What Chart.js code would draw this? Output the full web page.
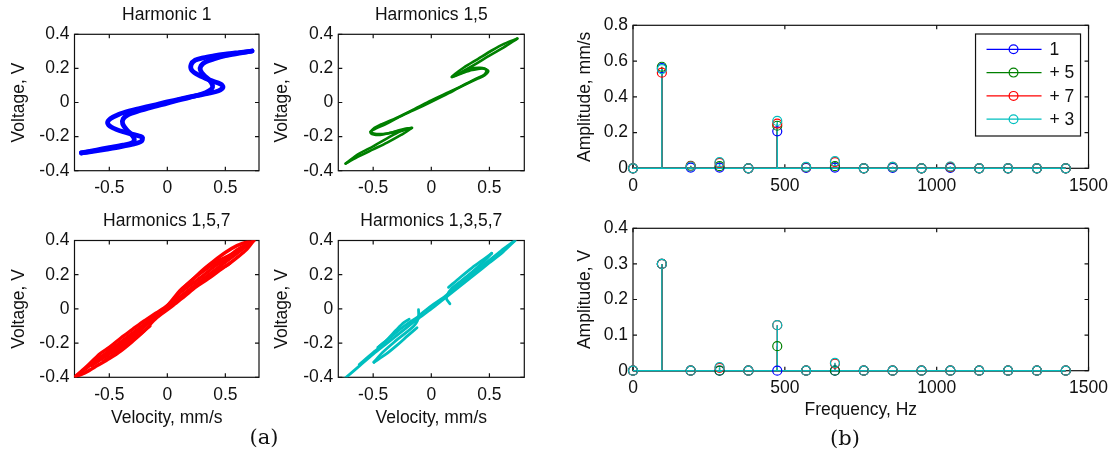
<!DOCTYPE html>
<html>
<head>
<meta charset="utf-8">
<script src="https://cdn.jsdelivr.net/npm/chart.js@4.4.1/dist/chart.umd.min.js"></script>
<style>
  body { margin: 0; background: #fff; }
  #wrap { position: relative; width: 1115px; height: 459px; overflow: hidden; }
  canvas { position: absolute; }
  .lab { position: absolute; font-family: "DejaVu Serif", serif; font-size: 21px; color: #111; transform: translate(-50%, -50%); }
</style>
</head>
<body>
<div id="wrap">
  <canvas id="h1"></canvas>
  <canvas id="h15"></canvas>
  <canvas id="h157"></canvas>
  <canvas id="h1357"></canvas>
  <canvas id="velSpec"></canvas>
  <canvas id="voltSpec"></canvas>
  <div class="lab" style="left:264px;top:437px">(a)</div>
  <div class="lab" style="left:845px;top:438px">(b)</div>
</div>
<script>
// ---- (a) velocity / voltage loops ----
const velTicks = [-0.5, 0, 0.5];
const voltTicks = [-0.4, -0.2, 0, 0.2, 0.4];

const harm1Down = [[0.73,0.302],[0.62,0.293],[0.50,0.283],[0.40,0.273],[0.31,0.262],[0.24,0.248],[0.205,0.222],[0.21,0.19],[0.27,0.16],[0.37,0.13],[0.46,0.108],[0.48,0.09],[0.44,0.068],[0.35,0.053],[0.25,0.04],[0.12,0.022],[0,0.004],[-0.12,-0.016],[-0.24,-0.035],[-0.33,-0.05],[-0.42,-0.07],[-0.49,-0.095],[-0.515,-0.12],[-0.48,-0.145],[-0.38,-0.172],[-0.28,-0.19],[-0.215,-0.205],[-0.225,-0.228],[-0.30,-0.245],[-0.40,-0.259],[-0.52,-0.273],[-0.63,-0.285],[-0.74,-0.296]];
const harm1Up = [[-0.74,-0.296],[-0.62,-0.28],[-0.50,-0.265],[-0.38,-0.25],[-0.30,-0.235],[-0.285,-0.215],[-0.305,-0.19],[-0.35,-0.16],[-0.385,-0.125],[-0.38,-0.095],[-0.34,-0.072],[-0.25,-0.05],[-0.12,-0.025],[0,-0.004],[0.12,0.018],[0.24,0.038],[0.33,0.058],[0.38,0.078],[0.39,0.10],[0.365,0.13],[0.315,0.16],[0.285,0.19],[0.29,0.215],[0.33,0.238],[0.40,0.255],[0.50,0.274],[0.62,0.289],[0.73,0.302]];

const harm15Down = [[0.74,0.375],[0.62,0.322],[0.50,0.275],[0.38,0.225],[0.27,0.183],[0.177,0.15],[0.25,0.172],[0.33,0.196],[0.42,0.203],[0.475,0.19],[0.455,0.163],[0.39,0.142],[0.30,0.11],[0.15,0.055],[0,0.004],[-0.15,-0.045],[-0.29,-0.09],[-0.40,-0.13],[-0.47,-0.15],[-0.525,-0.172],[-0.47,-0.185],[-0.38,-0.182],[-0.27,-0.165],[-0.166,-0.149],[-0.26,-0.19],[-0.38,-0.235],[-0.50,-0.275],[-0.62,-0.315],[-0.737,-0.358]];
const harm15Up = [[-0.737,-0.358],[-0.62,-0.30],[-0.50,-0.257],[-0.38,-0.21],[-0.27,-0.17],[-0.166,-0.149],[-0.25,-0.158],[-0.34,-0.176],[-0.44,-0.19],[-0.52,-0.18],[-0.50,-0.155],[-0.42,-0.125],[-0.30,-0.09],[-0.15,-0.04],[0,0.012],[0.15,0.06],[0.29,0.105],[0.40,0.14],[0.46,0.16],[0.49,0.185],[0.44,0.2],[0.35,0.19],[0.26,0.17],[0.177,0.15],[0.28,0.205],[0.40,0.255],[0.52,0.305],[0.63,0.345],[0.74,0.375]];

const harm157Top = [[-0.8,-0.40],[-0.7,-0.34],[-0.58,-0.262],[-0.5,-0.225],[-0.4,-0.17],[-0.3,-0.12],[-0.2,-0.07],[-0.1,-0.025],[0,0.02],[0.11,0.108],[0.2,0.16],[0.3,0.225],[0.4,0.28],[0.5,0.33],[0.6,0.37],[0.7,0.395],[0.745,0.40]];
const harm157Bottom = [[0.745,0.40],[0.68,0.345],[0.6,0.30],[0.54,0.268],[0.45,0.225],[0.35,0.175],[0.25,0.13],[0.15,0.075],[0.05,0.02],[-0.05,-0.03],[-0.12,-0.07],[-0.2,-0.13],[-0.3,-0.19],[-0.4,-0.245],[-0.5,-0.29],[-0.6,-0.33],[-0.7,-0.37],[-0.8,-0.40]];
const harm157Center = [[-0.8,-0.40],[-0.6,-0.296],[-0.4,-0.193],[-0.2,-0.09],[0,0.014],[0.2,0.118],[0.4,0.222],[0.6,0.325],[0.745,0.40]];
const harm157MidA = [[0.72,0.385],[0.6,0.335],[0.45,0.285],[0.35,0.24],[0.25,0.19],[0.15,0.13],[0.05,0.05],[-0.05,-0.01],[-0.15,-0.07],[-0.25,-0.135],[-0.35,-0.19],[-0.45,-0.24],[-0.55,-0.285],[-0.65,-0.33]];
const harm157MidB = [[-0.6,-0.29],[-0.5,-0.25],[-0.4,-0.205],[-0.3,-0.15],[-0.2,-0.1],[-0.08,-0.03],[0,0.0],[0.1,0.06],[0.2,0.11],[0.3,0.16],[0.4,0.21],[0.5,0.25],[0.54,0.268]];
const harm157Upper = [[0.1,0.09],[0.2,0.14],[0.3,0.19],[0.4,0.245],[0.5,0.29],[0.6,0.345],[0.7,0.385]];
const harm157Lower = [[-0.15,-0.1],[-0.25,-0.155],[-0.35,-0.207],[-0.45,-0.258],[-0.55,-0.305]];

const harm1357Main = [[-0.75,-0.41],[-0.62,-0.335],[-0.5,-0.265],[-0.38,-0.2],[-0.25,-0.13],[-0.12,-0.06],[0,0.0],[0.12,0.065],[0.25,0.135],[0.38,0.205],[0.5,0.27],[0.62,0.335],[0.72,0.40]];
const harm1357SliverTop = [[0.148,0.126],[0.25,0.185],[0.35,0.24],[0.45,0.29],[0.52,0.325]];
const harm1357SliverBot = [[0.52,0.325],[0.45,0.275],[0.35,0.215],[0.25,0.16],[0.17,0.115],[0.14,0.085],[0.13,0.06],[0.16,0.03]];
const harm1357Upper = [[0.72,0.40],[0.6,0.34],[0.5,0.285],[0.4,0.228],[0.3,0.172],[0.2,0.118],[0.1,0.064],[0,0.018],[-0.1,-0.035]];
const harm1357LowBot = [[-0.123,-0.11],[-0.2,-0.155],[-0.294,-0.212],[-0.39,-0.265],[-0.494,-0.312]];
const harm1357LowTop = [[-0.494,-0.312],[-0.42,-0.255],[-0.32,-0.195],[-0.22,-0.14],[-0.15,-0.1],[-0.12,-0.07],[-0.109,-0.04],[-0.11,-0.005]];
const harm1357LowFill = [[-0.45,-0.22],[-0.35,-0.165],[-0.25,-0.11],[-0.18,-0.075],[-0.1,-0.04]];
const harm1357LowEdge = [[-0.46,-0.225],[-0.38,-0.18],[-0.3,-0.122],[-0.237,-0.08],[-0.19,-0.06]];
const harm1357Tail = [[-0.62,-0.325],[-0.5,-0.255],[-0.4,-0.2]];

// ---- (b) amplitude spectra ----
const freqHz = [0, 95, 190, 285, 380, 475, 570, 665, 760, 855, 950, 1045, 1140, 1235, 1330, 1425];
const freqTicks = [0, 500, 1000, 1500];
const seriesNames = ['1', '+ 5', '+ 7', '+ 3'];
const seriesColors = ['#0000ff', '#008000', '#ff0000', '#00bfbf'];

const velAmp1 = [0, 0.56, 0.004, 0.004, 0, 0.207, 0.002, 0.004, 0, 0.002, 0, 0.002, 0, 0, 0, 0];
const velAmp15 = [0, 0.568, 0.014, 0.012, 0, 0.238, 0.006, 0.012, 0, 0.006, 0, 0.006, 0, 0, 0, 0];
const velAmp157 = [0, 0.535, 0.012, 0.03, 0, 0.25, 0.006, 0.035, 0, 0.008, 0, 0.008, 0, 0, 0, 0];
const velAmp1357 = [0, 0.555, 0.01, 0.034, 0, 0.265, 0.008, 0.04, 0, 0.008, 0, 0.01, 0, 0, 0, 0];
const velTicksY = [0, 0.2, 0.4, 0.6, 0.8];

const voltAmp1 = [0, 0.3, 0, 0, 0, 0, 0, 0, 0, 0, 0, 0, 0, 0, 0, 0];
const voltAmp15 = [0, 0.3, 0, 0, 0, 0.069, 0, 0, 0, 0, 0, 0, 0, 0, 0, 0];
const voltAmp157 = [0, 0.3, 0, 0.008, 0, 0.128, 0, 0.02, 0, 0, 0, 0, 0, 0, 0, 0];
const voltAmp1357 = [0, 0.3, 0, 0.01, 0, 0.128, 0, 0.022, 0, 0, 0, 0, 0, 0, 0, 0];
const voltTicksY = [0, 0.1, 0.2, 0.3, 0.4];

const FONT = 17.5;
const LH = FONT * 1.2;
const FAMILY = '"Liberation Sans", Arial, sans-serif';
Chart.defaults.font.family = FAMILY;
Chart.defaults.font.size = FONT;
Chart.defaults.color = '#111';

function place(id, left, top, w, h) {
  const c = document.getElementById(id);
  c.width = w; c.height = h;
  c.style.left = left + 'px'; c.style.top = top + 'px';
  c.style.width = w + 'px'; c.style.height = h + 'px';
  return c;
}

// axes box with inward ticks, like the original
const boxPlugin = {
  id: 'box',
  beforeDatasetsDraw(chart) {
    const { ctx, chartArea: a, scales: { x, y } } = chart;
    const t = 4;
    ctx.save();
    ctx.strokeStyle = '#111';
    ctx.lineWidth = 1.2;
    ctx.strokeRect(a.left, a.top, a.right - a.left, a.bottom - a.top);
    ctx.beginPath();
    x.ticks.forEach(tk => {
      const px = x.getPixelForValue(tk.value);
      ctx.moveTo(px, a.bottom); ctx.lineTo(px, a.bottom - t);
      ctx.moveTo(px, a.top); ctx.lineTo(px, a.top + t);
    });
    y.ticks.forEach(tk => {
      const py = y.getPixelForValue(tk.value);
      ctx.moveTo(a.left, py); ctx.lineTo(a.left + t, py);
      ctx.moveTo(a.right, py); ctx.lineTo(a.right - t, py);
    });
    ctx.stroke();
    ctx.restore();
  }
};

// stems + baseline for the spectra
const stemPlugin = {
  id: 'stems',
  beforeDatasetsDraw(chart) {
    const { ctx, scales: { x, y } } = chart;
    const y0 = y.getPixelForValue(0);
    chart.data.datasets.forEach(ds => {
      const pts = ds.data;
      ctx.save();
      ctx.strokeStyle = ds.borderColor;
      ctx.lineWidth = 1.4;
      ctx.beginPath();
      ctx.moveTo(x.getPixelForValue(pts[0].x), y0);
      ctx.lineTo(x.getPixelForValue(pts[pts.length - 1].x), y0);
      pts.forEach(p => {
        const px = x.getPixelForValue(p.x);
        ctx.moveTo(px, y0);
        ctx.lineTo(px, y.getPixelForValue(p.y));
      });
      ctx.stroke();
      ctx.restore();
    });
  }
};

const legendPlugin = {
  id: 'boxLegend',
  afterDatasetsDraw(chart, args, opts) {
    if (!opts.show) return;
    const { ctx, chartArea: a } = chart;
    const w = 105, h = 102;
    const lx = a.right - 8 - w, ly = a.top + 8.7;
    ctx.save();
    ctx.fillStyle = '#fff';
    ctx.fillRect(lx, ly, w, h);
    ctx.strokeStyle = '#111';
    ctx.lineWidth = 1.2;
    ctx.strokeRect(lx, ly, w, h);
    ctx.font = FONT + 'px ' + FAMILY;
    ctx.textBaseline = 'middle';
    chart.data.datasets.forEach((ds, i) => {
      const ry = ly + 15.3 + i * 23.3;
      ctx.strokeStyle = ds.borderColor;
      ctx.lineWidth = 1.2;
      ctx.beginPath(); ctx.moveTo(lx + 11, ry); ctx.lineTo(lx + 66, ry); ctx.stroke();
      ctx.beginPath(); ctx.arc(lx + 38, ry, 4.4, 0, Math.PI * 2); ctx.stroke();
      ctx.fillStyle = '#111';
      ctx.fillText(ds.label, lx + 74, ry + 1);
    });
    ctx.restore();
  }
};

const toXY = pts => pts.map(p => ({ x: p[0], y: p[1] }));
const fixTicks = vals => s => { s.ticks = vals.map(v => ({ value: v })); };

function loopChart(id, box, area, titleText, titleY, color, lineW, curves, xMin, xMax, yTitleX, xTitle) {
  const c = place(id, box.left, box.top, box.w, box.h);
  const padTop = titleY - box.top - LH / 2;
  new Chart(c, {
    type: 'scatter',
    data: {
      datasets: curves.map(pts => ({
        data: toXY(pts), showLine: true, borderColor: color, borderWidth: lineW,
        pointRadius: 0, tension: 0.3, borderJoinStyle: 'round', borderCapStyle: 'round'
      }))
    },
    options: {
      responsive: false, animation: false, devicePixelRatio: 1,
      layout: { padding: { left: 0, top: 0, bottom: 0, right: box.left + box.w - area.r } },
      plugins: {
        legend: { display: false }, tooltip: { enabled: false },
        title: {
          display: true, text: titleText, fullSize: false, color: '#111',
          font: { size: FONT, weight: 'normal' },
          padding: { top: padTop, bottom: area.t - box.top - padTop - LH }
        }
      },
      scales: {
        x: {
          type: 'linear', min: xMin, max: xMax,
          afterBuildTicks: fixTicks(velTicks),
          afterFit: s => { s.height = box.top + box.h - area.b; },
          grid: { display: false, drawTicks: false }, border: { display: false },
          ticks: { padding: 7, color: '#111', callback: v => String(v) },
          title: { display: !!xTitle, text: 'Velocity, mm/s', color: '#111', padding: { bottom: box.top + box.h - (xTitle || 0) - LH / 2 } }
        },
        y: {
          type: 'linear', min: -0.4, max: 0.4,
          afterBuildTicks: fixTicks(voltTicks),
          afterFit: s => { s.width = area.l - box.left; },
          grid: { display: false, drawTicks: false }, border: { display: false },
          ticks: { padding: 5, color: '#111', callback: v => String(v) },
          title: { display: true, text: 'Voltage, V', color: '#111', padding: { top: yTitleX - box.left - LH / 2 } }
        }
      }
    },
    plugins: [boxPlugin]
  });
}

function specChart(id, box, area, amps, yMax, yTicks, yTitle, xTitle, showLegend) {
  const c = place(id, box.left, box.top, box.w, box.h);
  new Chart(c, {
    type: 'scatter',
    data: {
      datasets: amps.map((a, i) => ({
        label: seriesNames[i],
        data: freqHz.map((f, k) => ({ x: f, y: a[k] })),
        borderColor: seriesColors[i],
        pointBorderColor: seriesColors[i],
        pointBackgroundColor: 'rgba(0,0,0,0)',
        pointRadius: 4.5, pointBorderWidth: 1.2,
        showLine: false, clip: false,
        order: amps.length - i
      }))
    },
    options: {
      responsive: false, animation: false, devicePixelRatio: 1,
      layout: { padding: { left: 0, top: area.t - box.top, bottom: 0, right: box.left + box.w - area.r } },
      plugins: {
        legend: { display: false }, tooltip: { enabled: false },
        boxLegend: { show: showLegend }
      },
      scales: {
        x: {
          type: 'linear', min: 0, max: 1500,
          afterBuildTicks: fixTicks(freqTicks),
          afterFit: s => { s.height = box.top + box.h - area.b; },
          grid: { display: false, drawTicks: false }, border: { display: false },
          ticks: { padding: 7, color: '#111', callback: v => String(v) },
          title: { display: !!xTitle, text: 'Frequency, Hz', color: '#111', padding: { bottom: box.top + box.h - (xTitle || 0) - LH / 2 } }
        },
        y: {
          type: 'linear', min: 0, max: yMax,
          afterBuildTicks: fixTicks(yTicks),
          afterFit: s => { s.width = area.l - box.left; },
          grid: { display: false, drawTicks: false }, border: { display: false },
          ticks: { padding: 5, color: '#111', callback: v => String(v) },
          title: { display: true, text: yTitle, color: '#111', padding: { top: 25 - LH / 2 } }
        }
      }
    },
    plugins: [boxPlugin, stemPlugin, legendPlugin]
  });
}

loopChart('h1', { left: 0, top: 0, w: 270, h: 200 }, { l: 74.5, r: 259, t: 34.3, b: 170.7 },
  'Harmonic 1', 15, '#0000ff', 4.8, [harm1Down, harm1Up], -0.8, 0.79, 19, null);
loopChart('h15', { left: 270, top: 0, w: 270, h: 200 }, { l: 338.3, r: 524.3, t: 34.3, b: 170.7 },
  'Harmonics 1,5', 15, '#008000', 2.6, [harm15Down, harm15Up], -0.8, 0.8, 282, null);
loopChart('h157', { left: 0, top: 200, w: 270, h: 259 }, { l: 74.5, r: 259, t: 240.5, b: 377.3 },
  'Harmonics 1,5,7', 221, '#ff0000', 3.4,
  [harm157Top, harm157Bottom, harm157Center, harm157MidA, harm157MidB, harm157Upper, harm157Lower], -0.8, 0.79, 19, 418.3);
loopChart('h1357', { left: 270, top: 200, w: 270, h: 259 }, { l: 338.3, r: 524.3, t: 240.5, b: 377.3 },
  'Harmonics 1,3,5,7', 221, '#00bfbf', 2.8,
  [harm1357Main, harm1357SliverTop, harm1357SliverBot, harm1357Upper, harm1357LowBot, harm1357LowTop, harm1357LowFill, harm1357LowEdge, harm1357Tail], -0.8, 0.8, 282, 418.3);

specChart('velSpec', { left: 560, top: 0, w: 555, h: 200 }, { l: 633, r: 1091, t: 25.3, b: 168.3 },
  [velAmp1, velAmp15, velAmp157, velAmp1357], 0.8, velTicksY, 'Amplitude, mm/s', null, true);
specChart('voltSpec', { left: 560, top: 200, w: 555, h: 259 }, { l: 633, r: 1091, t: 228.3, b: 370.7 },
  [voltAmp1, voltAmp15, voltAmp157, voltAmp1357], 0.4, voltTicksY, 'Amplitude, V', 410.5, false);
</script>
</body>
</html>
